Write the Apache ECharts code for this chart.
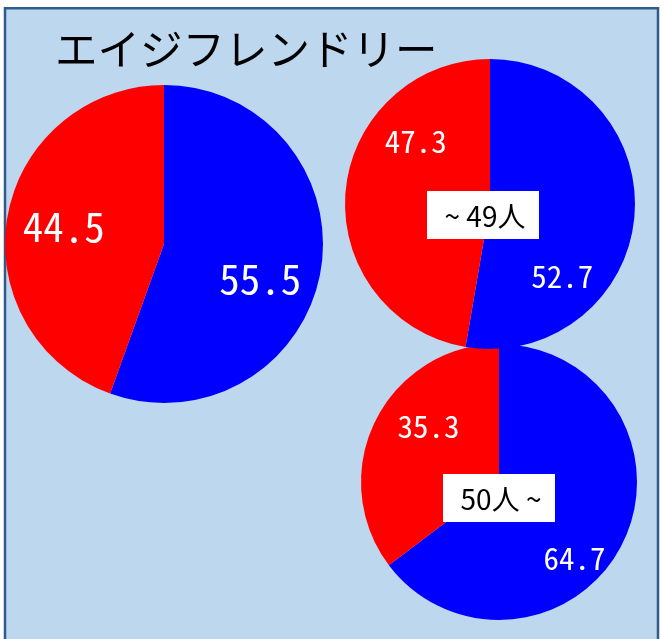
<!DOCTYPE html>
<html>
<head>
<meta charset="utf-8">
<script src="https://cdn.jsdelivr.net/npm/echarts@6/dist/echarts.min.js"></script>
<style>
  html, body { margin: 0; padding: 0; background: #ffffff; }
  #chart { width: 664px; height: 639px; }
</style>
</head>
<body>
<div id="chart"></div>
<script>
// Share of respondents (blue = first answer, red = second answer)
const chartTitle = 'エイジフレンドリー';
const groupNames = ['', '~ 49人', '50人 ~'];
const blueValues = [55.5, 52.7, 64.7];
const redValues = [44.5, 47.3, 35.3];

// Layout of each pie: centre, radius, label size and label nudges [blue, red]
const pieLayout = [
  { center: [164, 244], radius: 159, fontSize: 41, offsets: [[15, 20], [-19, -3]] },
  { center: [490, 204], radius: 145, fontSize: 31, offsets: [[-3, 66], [1, -56]] },
  { center: [499, 482], radius: 138, fontSize: 31, offsets: [[11, 44], [-6, -24]] }
];

const BLUE = '#0000ff';
const RED = '#ff0000';
const labelFont = "'Noto Sans Mono CJK JP', 'DejaVu Sans Mono', monospace";
const jpFont = "'Noto Sans CJK JP', 'Noto Sans', sans-serif";

const series = pieLayout.map((p, i) => ({
  type: 'pie',
  center: p.center,
  radius: p.radius,
  startAngle: 90,
  clockwise: true,
  silent: true,
  animation: false,
  z: 2 + (2 - i),
  labelLine: { show: false },
  itemStyle: { borderWidth: 0 },
  label: {
    show: true,
    position: 'inside',
    color: '#ffffff',
    fontFamily: labelFont,
    fontSize: p.fontSize,
    formatter: (d) => d.value.toFixed(1)
  },
  data: [
    { name: 'blue', value: blueValues[i], itemStyle: { color: BLUE }, label: { offset: p.offsets[0] } },
    { name: 'red', value: redValues[i], itemStyle: { color: RED }, label: { offset: p.offsets[1] } }
  ]
}));

// White caption boxes at the centre of the two group pies
const boxPos = [null, [483, 215], [499, 498]];
const boxes = [];
groupNames.forEach((name, i) => {
  if (!name) return;
  boxes.push({
    type: 'group',
    x: boxPos[i][0],
    y: boxPos[i][1],
    z: 100,
    children: [
      { type: 'rect', shape: { x: -56, y: -24, width: 112, height: 48 }, style: { fill: '#ffffff' }, z: 100 },
      { type: 'text', x: 2, y: 1, z: 101, style: {
          text: name, fill: '#000000', font: '28px ' + jpFont,
          align: 'center', verticalAlign: 'middle' } }
    ]
  });
});

const chart = echarts.init(document.getElementById('chart'), null, { renderer: 'canvas' });
chart.setOption({
  backgroundColor: '#ffffff',
  animation: false,
  title: {
    text: chartTitle,
    left: 55,
    top: 28,
    padding: 0,
    textStyle: { fontFamily: jpFont, fontSize: 42.5, fontWeight: 'normal', color: '#000000' }
  },
  graphic: [
    { type: 'rect', z: -10, silent: true,
      shape: { x: 5, y: 8.3, width: 653, height: 700 },
      style: { fill: '#bdd7ee', stroke: '#2f5a8c', lineWidth: 2.5 } }
  ].concat(boxes),
  series: series
});
</script>
</body>
</html>
